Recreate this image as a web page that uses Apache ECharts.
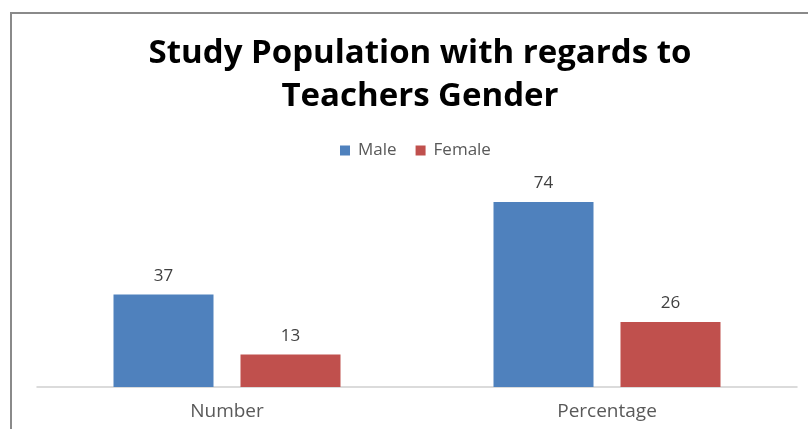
<!DOCTYPE html>
<html><head><meta charset="utf-8">
<script src="https://cdn.jsdelivr.net/npm/echarts@6/dist/echarts.min.js"></script>
<style>html,body{margin:0;padding:0;background:#fff}#c{width:808px;height:429px}</style>
</head><body><div id="c"></div>
<script>
const categories = ['Number', 'Percentage'];
const maleValues = [37, 74];
const femaleValues = [13, 26];
const seriesNames = ['Male', 'Female'];
const titleText = 'Study Population with regards to\nTeachers Gender';

const chart = echarts.init(document.getElementById('c'));
chart.setOption({
  animation: false,
  backgroundColor: '#fff',
  graphic: [{
    type: 'rect', silent: true,
    shape: {x: 11, y: 13, width: 830, height: 460},
    style: {fill: 'none', stroke: '#8a8a8a', lineWidth: 2}
  }],
  title: {
    text: titleText, left: 415, top: 27, textAlign: 'center',
    textStyle: {fontFamily: 'Open Sans', fontWeight: 'bold', fontSize: 33, color: '#000', lineHeight: 43}
  },
  legend: {
    data: seriesNames, top: 137, left: 335,
    itemWidth: 10, itemHeight: 10, itemGap: 19, icon: 'rect',
    textStyle: {fontFamily: 'Open Sans', fontSize: 17, color: '#595959', padding: [0,0,0,3]}
  },
  grid: {left: 37, right: 11, top: 187, bottom: 42, containLabel: false},
  xAxis: {
    type: 'category', data: categories,
    axisLine: {lineStyle: {color: '#d0d0d0', width: 1.5}},
    axisTick: {show: false},
    axisLabel: {fontFamily: 'Open Sans', fontSize: 19, color: '#595959', margin: 15}
  },
  yAxis: {type: 'value', min: 0, max: 80, show: false, splitLine: {show: false}},
  series: [
    {name: seriesNames[0], type: 'bar', data: maleValues, barWidth: 100, barGap: '27%',
     itemStyle: {color: '#4f81bd'},
     label: {show: true, position: 'top', distance: 10, fontFamily: 'Open Sans', fontSize: 17, color: '#404040'}},
    {name: seriesNames[1], type: 'bar', data: femaleValues, barWidth: 100, barGap: '27%',
     itemStyle: {color: '#c0504d'},
     label: {show: true, position: 'top', distance: 10, fontFamily: 'Open Sans', fontSize: 17, color: '#404040'}}
  ]
});
</script></body></html>
